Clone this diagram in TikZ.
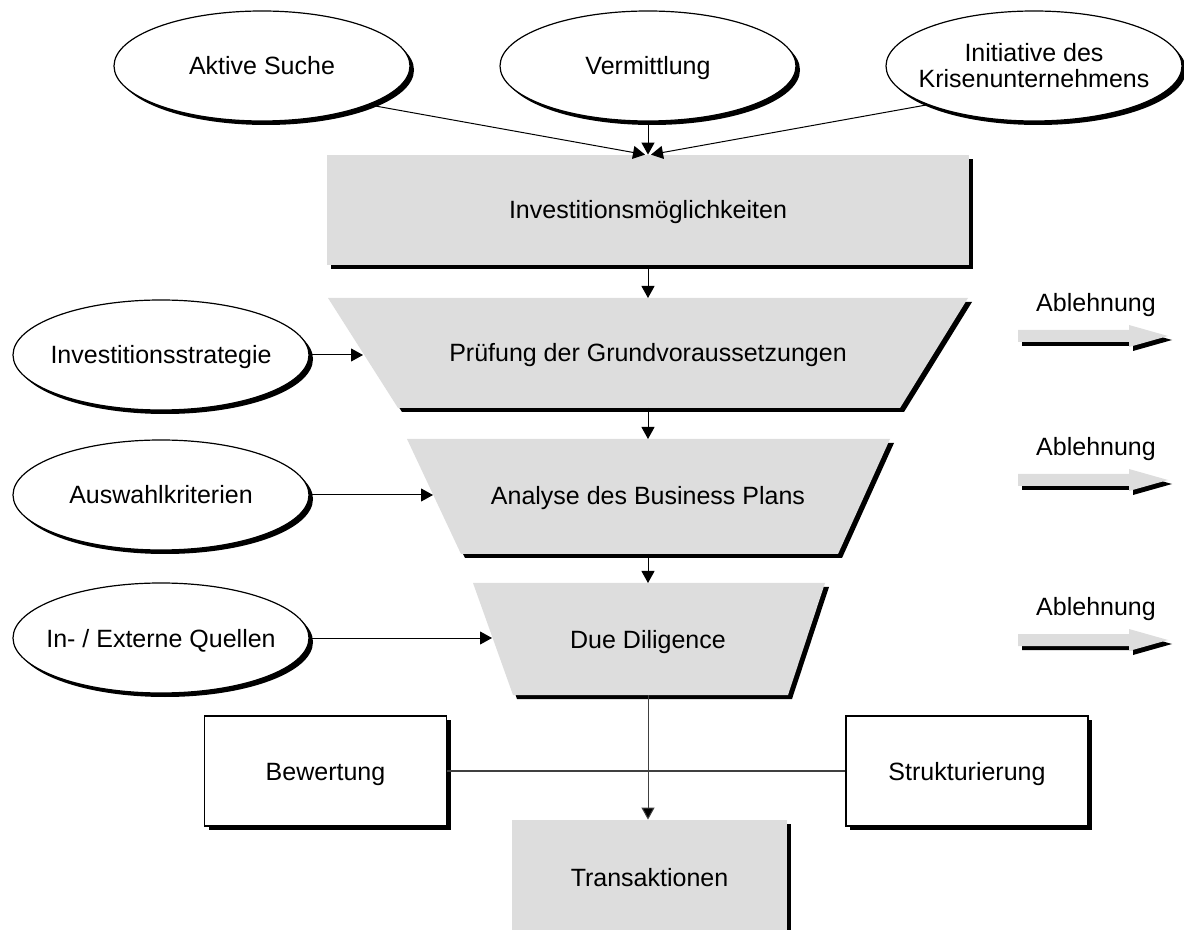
\documentclass[tikz,border=0pt]{standalone}
\usepackage{fontspec}
\setmainfont{Liberation Sans}
\usetikzlibrary{arrows.meta,shapes.geometric,shadows}
\definecolor{boxgray}{RGB}{221,221,221}
\begin{document}
\begin{tikzpicture}[x=0.5pt,y=-0.5pt,
  font=\fontsize{12.5}{13}\selectfont,
  dshadow/.style={drop shadow={shadow xshift=2pt,shadow yshift=-2pt,opacity=1,fill=black}},
  onetext/.style={text height=10.5pt,text depth=1.5pt},
  % fixed-size ellipse; its text sits in a centred label so it never widens the shape
  ovalshape/.style={ellipse,draw,line width=0.6pt,fill=white,minimum width=148pt,minimum height=55pt,inner sep=0pt,dshadow},
  oval/.style={ovalshape,label={[inner sep=0pt,onetext]center:#1}},
  graybox/.style={rectangle,fill=boxgray,inner sep=0pt,onetext,dshadow},
  whitebox/.style={rectangle,draw,line width=0.6pt,fill=white,inner sep=0pt,minimum width=121pt,minimum height=55pt,
    onetext,dshadow},
  arr/.style={-{Triangle[length=6pt,width=6.5pt]},line width=0.5pt},
  link/.style={line width=0.6pt,black!75},
  lbl/.style={inner sep=0pt,onetext}]
\useasboundingbox (0,0) rectangle (1184,930);

% sources of investment opportunities
\node[oval={Aktive Suche}] (aktiv) at (262,66) {};
\node[oval={Vermittlung}] (verm) at (648,66) {};
\node[ovalshape,label={[inner sep=0pt,align=center]center:Initiative des\\Krisenunternehmens}] (init) at (1034,66) {};

\node[graybox,minimum width=321pt,minimum height=55pt] (inv) at (648,210) {Investitionsmöglichkeiten};

\draw[arr] (aktiv.-20) -- ([xshift=-1.5pt]inv.north);
\draw[arr] (verm.south) -- (verm.south |- inv.north);
\draw[arr] (init.-160) -- ([xshift=1.5pt]inv.north);

% screening funnel
\fill[boxgray,dshadow] (328,298) -- (968,298) -- (900,408) -- (398,408) -- cycle;
\fill[boxgray,dshadow] (407,439) -- (890,439) -- (838,554) -- (461,554) -- cycle;
\fill[boxgray,dshadow] (473,583) -- (825,583) -- (788,695) -- (513,695) -- cycle;

\node[lbl] (pruef) at (648,353) {Prüfung der Grundvoraussetzungen};
\node[lbl] (analyse) at (648,496) {Analyse des Business Plans};
\node[lbl] (dd) at (648,639) {Due Diligence};

\coordinate (t1n) at (648,298);
\coordinate (t1s) at (648,408);
\coordinate (t2n) at (648,439);
\coordinate (t2s) at (648,554);
\coordinate (t3n) at (648,583);
\coordinate (t3s) at (648,695);
\coordinate (t1w) at (363,355);
\coordinate (t2w) at (433,495);
\coordinate (t3w) at (492,638);

\draw[arr] (inv.south) -- (t1n);
\draw[arr] (t1s) -- (t2n);
\draw[arr] (t2s) -- (t3n);

% criteria feeding each stage
\node[oval={Investitionsstrategie}] (strat) at (161,355) {};
\node[oval={Auswahlkriterien}] (ausw) at (161,495) {};
\node[oval={In- / Externe Quellen}] (quel) at (161,638) {};

\draw[arr] (strat) -- (t1w);
\draw[arr] (ausw) -- (t2w);
\draw[arr] (quel) -- (t3w);

% rejection arrows
\foreach \yc/\nm in {336/a,480/b,640/c}{
  \fill[boxgray,dshadow] (1018,\yc-6) -- (1129,\yc-6) -- (1129,\yc-11) -- (1168,\yc)
        -- (1129,\yc+11) -- (1129,\yc+6) -- (1018,\yc+6) -- cycle;
  \node[lbl] (abl\nm) at (1096,\yc-33) {Ablehnung};
}

% valuation, structuring and transaction
\node[whitebox] (bew) at (325.5,771) {Bewertung};
\node[whitebox] (struk) at (967,771) {Strukturierung};
\node[graybox,minimum width=137.5pt,minimum height=57.5pt] (trans) at (649.5,877.5) {Transaktionen};

\draw[link] (bew) -- (struk);
\draw[arr,black!75,-{Triangle[length=6pt,width=6.5pt,fill=black]}] (t3s) -- (t3s |- trans.north);
\end{tikzpicture}
\end{document}
